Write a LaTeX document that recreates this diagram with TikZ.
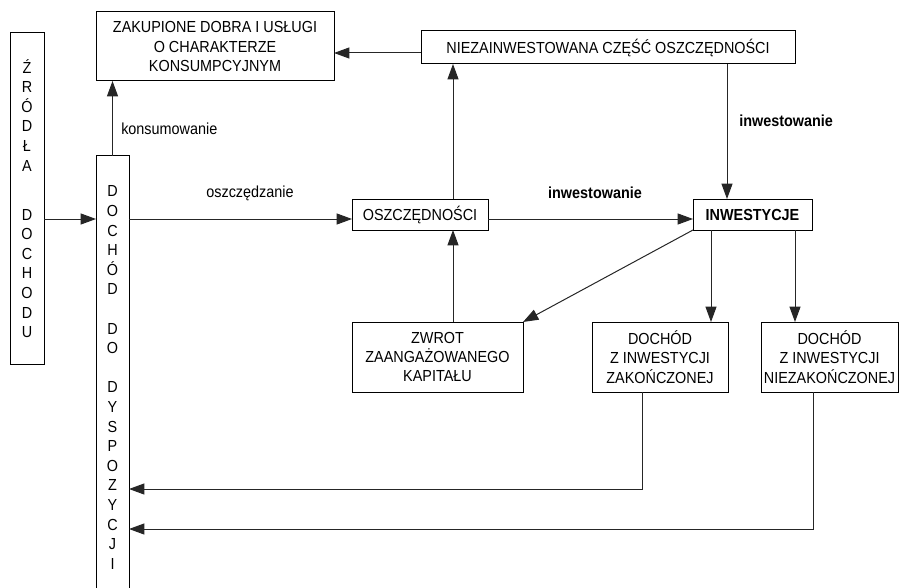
\documentclass[tikz,border=0pt]{standalone}
\usepackage{fontspec}
\setmainfont{Liberation Sans}[FakeStretch=0.9]
\usetikzlibrary{arrows.meta}
\begin{document}
\begin{tikzpicture}[x=0.75pt,y=-0.75pt,
  box/.style={draw=black, line width=0.75pt, inner sep=0pt, outer sep=0pt, align=center, font=\fontsize{12}{14.6}\selectfont},
  col/.style={inner sep=0pt, outer sep=0pt, align=center, font=\fontsize{12}{14.7}\selectfont},
  arr/.style={line width=0.75pt, draw=black!85, -{Triangle[length=11.5pt,width=8.25pt]}},
  lbl/.style={inner sep=0pt, font=\fontsize{12}{12}\selectfont},
  blbl/.style={inner sep=0pt, font=\fontsize{12}{12}\selectfont\bfseries},
]
\useasboundingbox (0,0) rectangle (899,588);

% nodes
\node[box, col, draw=black, minimum width=25.5pt, minimum height=248.25pt] (zrodla) at (27,198.5)
  {Ź\\R\\Ó\\D\\Ł\\A\\[22pt]D\\O\\C\\H\\O\\D\\U};
\node[col, minimum width=24.75pt, minimum height=332.25pt] (dyd) at (112.5,377.5)
  {D\\O\\C\\H\\Ó\\D\\[14.7pt]D\\O\\[14.7pt]D\\Y\\S\\P\\O\\Z\\Y\\C\\J\\I};
\draw[line width=0.75pt] (dyd.south west) |- (dyd.north east) -- (dyd.south east);

\node[box, minimum width=178.5pt, minimum height=51.75pt] (zak) at (215,46.5)
  {ZAKUPIONE DOBRA I USŁUGI\\O CHARAKTERZE\\KONSUMPCYJNYM};
\node[box, minimum width=280.5pt, minimum height=24.75pt] (niez) at (608,47.5)
  {NIEZAINWESTOWANA CZĘŚĆ OSZCZĘDNOŚCI};
\node[box, minimum width=102pt, minimum height=23.25pt] (osz) at (420,214.5)
  {OSZCZĘDNOŚCI};
\node[box, minimum width=89.25pt, minimum height=23.25pt, font=\fontsize{12}{14.6}\selectfont\bfseries] (inw) at (752.5,214.5)
  {INWESTYCJE};
\node[box, minimum width=128.25pt, minimum height=52.5pt] (zwrot) at (437.5,357)
  {ZWROT\\ZAANGAŻOWANEGO\\KAPITAŁU};
\node[box, minimum width=102pt, minimum height=52.5pt] (dz) at (660,357)
  {DOCHÓD\\Z INWESTYCJI\\ZAKOŃCZONEJ};
\node[box, minimum width=102.75pt, minimum height=52.5pt] (dn) at (829.5,357)
  {DOCHÓD\\Z INWESTYCJI\\NIEZAKOŃCZONEJ};

% labels
\node[lbl, anchor=west] (lkons) at (121,129) {konsumowanie};
\node[lbl] (losz) at (250,193) {oszczędzanie};
\node[blbl] (linwa) at (595,193) {inwestowanie};
\node[blbl, anchor=west] (linwb) at (739,121) {inwestowanie};

% helper coordinates
\coordinate (vx) at (453,0);
\coordinate (vx2) at (727,0);
\coordinate (vx3) at (711,0);
\coordinate (vx4) at (795,0);
\coordinate (r1) at (642,489);
\coordinate (r2) at (813,529);

% connectors
\draw[arr] ([yshift=-4.125pt]niez.west) coordinate (a1) -- (a1 -| zak.east);
\draw[arr] (dyd.north) -- (dyd.north |- zak.south);
\draw[arr] ([yshift=-15.375pt]zrodla.east) coordinate (a2) -- (a2 -| dyd.west);
\draw[arr] (a2 -| dyd.east) -- (a2 -| osz.west);
\draw[arr] (vx |- osz.north) -- (vx |- niez.south);
\draw[arr] (vx |- zwrot.north) -- (vx |- osz.south);
\draw[arr] (a2 -| osz.east) -- (a2 -| inw.west);
\draw[arr] (vx2 |- niez.south) -- (vx2 |- inw.north);
\draw[arr] (inw.south west) -- (zwrot.north east);
\draw[arr] (vx3 |- inw.south) -- (vx3 |- dz.north);
\draw[arr] (vx4 |- inw.south) -- (vx4 |- dn.north);
\draw[arr] (r1 |- dz.south) -- (r1) -- (r1 -| dyd.east);
\draw[arr] (r2 |- dn.south) -- (r2) -- (r2 -| dyd.east);
\end{tikzpicture}
\end{document}
